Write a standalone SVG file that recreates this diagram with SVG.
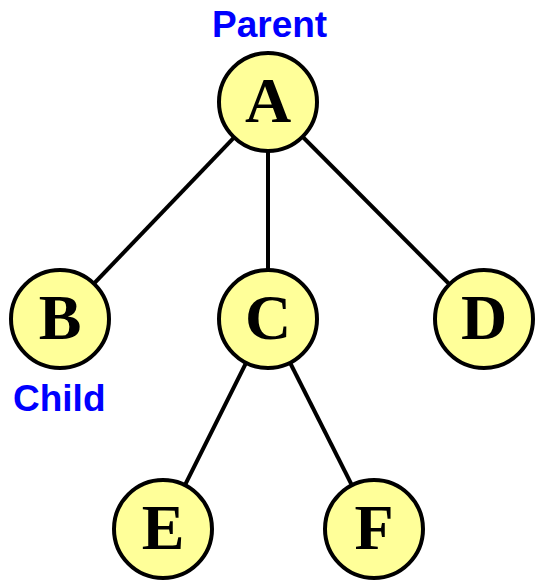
<svg xmlns="http://www.w3.org/2000/svg" width="536" height="583" viewBox="0 0 536 583">
<style>
.edge{stroke:#000;stroke-width:4;fill:none}
.node circle{fill:#FFFF99;stroke:#000;stroke-width:4}
.node text{font-family:"Liberation Serif","Times New Roman",serif;font-weight:bold;font-size:64px;text-anchor:middle;fill:#000}
.lbl{font-family:"Liberation Sans",Arial,sans-serif;font-weight:bold;font-size:37px;fill:#0000FF}
</style>
<rect width="536" height="583" fill="#fff"/>
<g id="connectors">
<line class="edge" x1="268" y1="102" x2="60" y2="319"/>
<line class="edge" x1="268" y1="102" x2="268" y2="319"/>
<line class="edge" x1="268" y1="102" x2="484" y2="319"/>
<line class="edge" x1="268" y1="319" x2="163" y2="529"/>
<line class="edge" x1="268" y1="319" x2="374" y2="529"/>
</g>
<g id="A" class="node"><circle cx="268" cy="102" r="49"/><text x="268" y="122">A</text></g>
<g id="B" class="node"><circle cx="60" cy="319" r="49"/><text x="60" y="339">B</text></g>
<g id="C" class="node"><circle cx="268" cy="319" r="49"/><text x="268" y="339">C</text></g>
<g id="D" class="node"><circle cx="484" cy="319" r="49"/><text x="484" y="339">D</text></g>
<g id="E" class="node"><circle cx="163" cy="529" r="49"/><text x="163" y="549">E</text></g>
<g id="F" class="node"><circle cx="374" cy="529" r="49"/><text x="374" y="549">F</text></g>
<text class="lbl" x="212" y="37">Parent</text>
<text class="lbl" x="13" y="411">Child</text>
</svg>
